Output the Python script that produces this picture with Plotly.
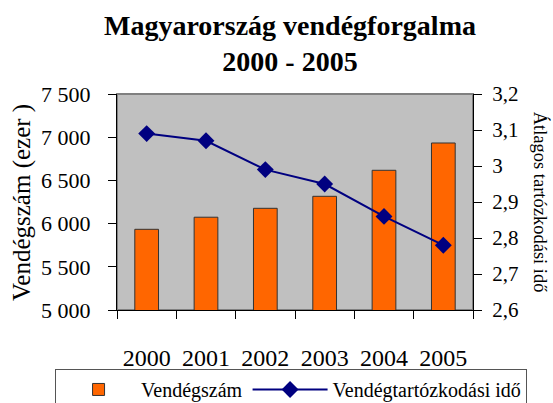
import plotly.graph_objects as go

years = ["2000", "2001", "2002", "2003", "2004", "2005"]
guests = [5934, 6074, 6177, 6316, 6617, 6933]
stay = [3.09, 3.07, 2.99, 2.95, 2.86, 2.78]

FONT = "Liberation Serif"

fig = go.Figure()
fig.add_trace(go.Bar(
    x=years, y=guests, name="Vendégszám",
    marker=dict(color="#FF6600", line=dict(color="#333333", width=1)),
))
fig.add_trace(go.Scatter(
    x=years, y=stay, name="Vendégtartózkodási idő", yaxis="y2",
    mode="lines+markers",
    line=dict(color="#000080", width=2),
    marker=dict(symbol="diamond", size=13, color="#000080"),
))

fig.update_layout(
    width=553, height=403,
    margin=dict(l=117, r=80, t=94, b=93, autoexpand=False),
    paper_bgcolor="white",
    plot_bgcolor="#C0C0C0",
    separators=", ",
    font=dict(family=FONT, color="black"),
    bargap=0.6,
    showlegend=True,
    xaxis=dict(
        type="category",
        showline=True, linecolor="black", linewidth=1,
        ticks="outside", ticklen=8, tickcolor="black",
        tickson="boundaries",
        tickfont=dict(size=24, family=FONT),
        ticklabelstandoff=26,
        showgrid=False,
        range=[-0.5, 5.5],
    ),
    yaxis=dict(
        range=[5000, 7500], dtick=500, tickformat=",d",
        showline=True, linecolor="black", linewidth=1,
        ticks="outside", ticklen=8, tickcolor="black",
        tickfont=dict(size=22, family=FONT),
        ticklabelstandoff=13,
        showgrid=False, zeroline=False,
    ),
    yaxis2=dict(
        overlaying="y", side="right",
        range=[2.6, 3.2], dtick=0.1,
        showline=True, linecolor="black", linewidth=1,
        ticks="outside", ticklen=8, tickcolor="black",
        tickfont=dict(size=21, family=FONT),
        ticklabelstandoff=6,
        showgrid=False, zeroline=False,
    ),
    legend=dict(
        orientation="h",
        x=-0.174, y=-0.273, xanchor="left", yanchor="top",
        bordercolor="#555555", borderwidth=1,
        bgcolor="white",
        font=dict(size=20, family=FONT),
        itemwidth=75,
    ),
    shapes=[dict(type="rect", xref="paper", yref="paper", x0=0, x1=1, y0=0, y1=1,
                 line=dict(color="#808080", width=2), layer="below")],
    annotations=[
        dict(
            text="<b>Magyarország vendégforgalma<br>2000 - 2005</b>",
            xref="paper", yref="paper", x=0.486, y=1.40,
            xanchor="center", yanchor="top", showarrow=False,
            font=dict(size=28, family=FONT),
        ),
        dict(
            text="Vendégszám (ezer )", textangle=-90,
            xref="paper", yref="paper", x=-0.267, y=0.5,
            xanchor="center", yanchor="middle", showarrow=False,
            font=dict(size=25, family=FONT),
        ),
        dict(
            text="Átlagos tartózkodási idő", textangle=90,
            xref="paper", yref="paper", x=1.192, y=0.5,
            xanchor="center", yanchor="middle", showarrow=False,
            font=dict(size=18.5, family=FONT),
        ),
    ],
)

fig.write_html("out.html", config={"displayModeBar": False},
               post_script="document.body.style.margin='0';")
